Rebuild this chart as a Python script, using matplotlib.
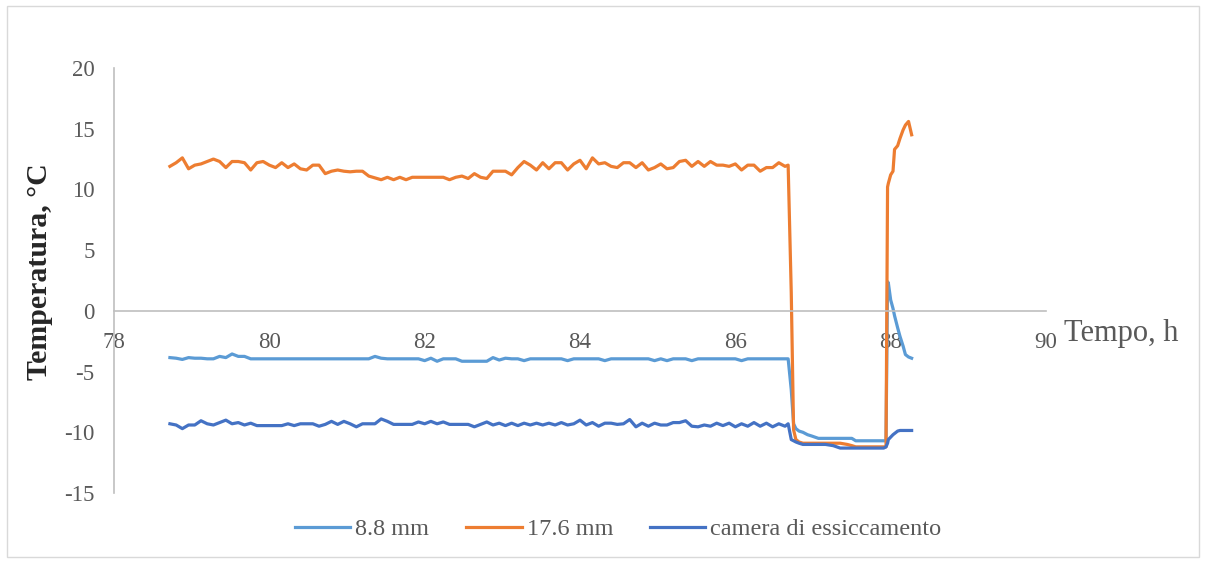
import matplotlib
matplotlib.use("Agg")
import matplotlib.pyplot as plt
from matplotlib.patches import Rectangle

plt.rcParams['font.family'] = ['Liberation Serif', 'DejaVu Serif']
plt.rcParams['axes.unicode_minus'] = False

# sampling times, h (steady part + final transient)
t_steady = [
    78.72, 78.80, 78.88, 78.96, 79.04, 79.12, 79.20, 79.28, 79.36, 79.44,
    79.52, 79.60, 79.68, 79.76, 79.84, 79.92, 80.00, 80.08, 80.16, 80.24,
    80.32, 80.40, 80.48, 80.56, 80.64, 80.72, 80.80, 80.88, 80.96, 81.04,
    81.12, 81.20, 81.28, 81.36, 81.44, 81.52, 81.60, 81.68, 81.76, 81.84,
    81.92, 82.00, 82.08, 82.16, 82.24, 82.32, 82.40, 82.48, 82.56, 82.64,
    82.72, 82.80, 82.88, 82.96, 83.04, 83.12, 83.20, 83.28, 83.36, 83.44,
    83.52, 83.60, 83.68, 83.76, 83.84, 83.92, 84.00, 84.08, 84.16, 84.24,
    84.32, 84.40, 84.48, 84.56, 84.64, 84.72, 84.80, 84.88, 84.96, 85.04,
    85.12, 85.20, 85.28, 85.36, 85.44, 85.52, 85.60, 85.68, 85.76, 85.84,
    85.92, 86.00, 86.08, 86.16, 86.24, 86.32, 86.40, 86.48, 86.56, 86.64,
    86.68,
]
t_tail = [
    86.72, 86.75, 86.78, 86.82, 86.87, 86.93, 86.98, 87.07, 87.16, 87.26,
    87.35, 87.44, 87.50, 87.55, 87.65, 87.75, 87.85, 87.91, 87.94, 87.96,
    87.97, 88.00, 88.03, 88.05, 88.09, 88.12, 88.16, 88.19, 88.23, 88.27,
]

# 8.8 mm
s88_steady = [
    -3.85, -3.90, -4.00, -3.85, -3.90, -3.90, -3.95, -3.95, -3.75, -3.85,
    -3.55, -3.75, -3.75, -3.95, -3.95, -3.95, -3.95, -3.95, -3.95, -3.95,
    -3.95, -3.95, -3.95, -3.95, -3.95, -3.95, -3.95, -3.95, -3.95, -3.95,
    -3.95, -3.95, -3.95, -3.75, -3.90, -3.95, -3.95, -3.95, -3.95, -3.95,
    -3.95, -4.10, -3.90, -4.15, -3.95, -3.95, -3.95, -4.15, -4.15, -4.15,
    -4.15, -4.15, -3.85, -4.05, -3.90, -3.95, -3.95, -4.10, -3.95, -3.95,
    -3.95, -3.95, -3.95, -3.95, -4.10, -3.95, -3.95, -3.95, -3.95, -3.95,
    -4.10, -3.95, -3.95, -3.95, -3.95, -3.95, -3.95, -3.95, -4.10, -3.95,
    -4.10, -3.95, -3.95, -3.95, -4.10, -3.95, -3.95, -3.95, -3.95, -3.95,
    -3.95, -3.95, -4.10, -3.95, -3.95, -3.95, -3.95, -3.95, -3.95, -3.95,
    -3.95,
]
s88_tail = [
    -6.5, -9.3, -9.7, -9.9, -10.0, -10.2, -10.3, -10.5, -10.5, -10.5,
    -10.5, -10.5, -10.5, -10.7, -10.7, -10.7, -10.7, -10.7, -10.7, 2.4,
    2.3, 0.9, 0.2, -0.4, -1.4, -2.1, -2.9, -3.6, -3.8, -3.9,
]

# 17.6 mm
s176_steady = [
    11.9, 12.2, 12.6, 11.7, 12.0, 12.1, 12.3, 12.5, 12.3, 11.8,
    12.3, 12.3, 12.2, 11.6, 12.2, 12.3, 12.0, 11.8, 12.2, 11.8,
    12.1, 11.7, 11.6, 12.0, 12.0, 11.3, 11.5, 11.6, 11.5, 11.45,
    11.5, 11.5, 11.1, 10.95, 10.8, 11.0, 10.8, 11.0, 10.8, 11.0,
    11.0, 11.0, 11.0, 11.0, 11.0, 10.8, 11.0, 11.1, 10.9, 11.3,
    11.0, 10.9, 11.5, 11.5, 11.5, 11.2, 11.8, 12.3, 12.0, 11.6,
    12.2, 11.7, 12.2, 12.2, 11.6, 12.1, 12.4, 11.7, 12.6, 12.1,
    12.2, 11.9, 11.8, 12.2, 12.2, 11.8, 12.2, 11.6, 11.8, 12.1,
    11.7, 11.8, 12.3, 12.4, 11.9, 12.3, 11.9, 12.3, 12.0, 12.0,
    11.9, 12.1, 11.6, 12.0, 12.0, 11.5, 11.8, 11.8, 12.2, 11.9,
    12.0,
]
s176_tail = [
    1.5, -9.8, -10.6, -10.8, -10.9, -10.9, -10.9, -10.9, -10.9, -10.9,
    -10.9, -11.0, -11.1, -11.2, -11.2, -11.2, -11.2, -11.2, -11.2, 10.2,
    10.5, 11.2, 11.5, 13.3, 13.6, 14.2, 14.9, 15.3, 15.6, 14.5,
]

# camera di essiccamento
cam_steady = [
    -9.30, -9.40, -9.70, -9.40, -9.40, -9.05, -9.30, -9.40, -9.20, -9.00,
    -9.30, -9.20, -9.40, -9.25, -9.45, -9.45, -9.45, -9.45, -9.45, -9.30,
    -9.45, -9.30, -9.30, -9.30, -9.50, -9.35, -9.10, -9.35, -9.10, -9.30,
    -9.55, -9.30, -9.30, -9.30, -8.90, -9.10, -9.35, -9.35, -9.35, -9.35,
    -9.15, -9.30, -9.10, -9.30, -9.15, -9.35, -9.35, -9.35, -9.35, -9.55,
    -9.35, -9.15, -9.40, -9.25, -9.45, -9.25, -9.45, -9.25, -9.40, -9.25,
    -9.40, -9.25, -9.40, -9.20, -9.40, -9.30, -9.00, -9.40, -9.20, -9.50,
    -9.25, -9.25, -9.35, -9.30, -8.95, -9.55, -9.25, -9.50, -9.25, -9.40,
    -9.40, -9.20, -9.20, -9.05, -9.50, -9.55, -9.40, -9.50, -9.25, -9.45,
    -9.25, -9.55, -9.30, -9.50, -9.20, -9.50, -9.25, -9.55, -9.30, -9.50,
    -9.30,
]
cam_tail = [
    -10.6, -10.7, -10.8, -10.9, -11.0, -11.0, -11.0, -11.0, -11.0, -11.1,
    -11.3, -11.3, -11.3, -11.3, -11.3, -11.3, -11.3, -11.3, -11.2, -10.9,
    -10.6, -10.4, -10.2, -10.1, -9.9, -9.85, -9.85, -9.85, -9.85, -9.85,
]

labels = ['8.8 mm', '17.6 mm', 'camera di essiccamento']
colors = ['#5B9BD5', '#ED7D31', '#4472C4']

t = t_steady + t_tail
series = [s88_steady + s88_tail, s176_steady + s176_tail, cam_steady + cam_tail]

fig = plt.figure(figsize=(12.06, 5.62), dpi=100)
ax = fig.add_axes([114 / 1206, 1 - 493 / 562, 932 / 1206, 425 / 562])

for vals, lab, col in zip(series, labels, colors):
    ax.plot(t, vals, color=col, lw=2.3, label=lab, solid_joinstyle='round')

ax.set_xlim(78, 90)
ax.set_ylim(-15, 20)
ax.set_xticks(range(78, 91, 2))
ax.set_yticks(range(-15, 21, 5))

for s in ['top', 'right']:
    ax.spines[s].set_visible(False)
ax.spines['bottom'].set_position(('data', 0))
for s in ['bottom', 'left']:
    ax.spines[s].set_color('#bfbfbf')
    ax.spines[s].set_linewidth(1.2)
ax.tick_params(length=0, labelsize=16.5, labelcolor='#595959')
ax.tick_params(axis='x', pad=15)
ax.tick_params(axis='y', pad=14)

fig.text(26 / 1206, 1 - 272 / 562, 'Temperatura, °C', rotation=90, fontsize=21.5,
         fontweight='bold', color='#262626', ha='left', va='center')
fig.text(1064 / 1206, 1 - 333 / 562, 'Tempo, h', fontsize=22, color='#595959',
         ha='left', va='center')

fig.legend(loc='center', bbox_to_anchor=(618 / 1206, 1 - 529 / 562), ncol=3,
           frameon=False, fontsize=17.5, handlelength=2.3, handletextpad=0.2,
           columnspacing=1.5, labelcolor='#595959')

fig.patches.append(Rectangle((7 / 1206, 5 / 562), 1192 / 1206, 551 / 562,
                             transform=fig.transFigure, fill=False,
                             edgecolor='#d9d9d9', lw=1))

fig.savefig('out.png', dpi=100)
